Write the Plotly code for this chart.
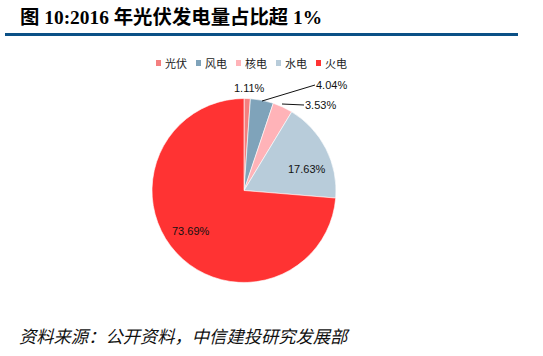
import plotly.graph_objects as go

labels = ["光伏", "风电", "核电", "水电", "火电"]
values = [1.11, 4.04, 3.53, 17.63, 73.69]
colors = ["#F47F7F", "#7FA3BA", "#FFB3B8", "#B8CCDA", "#FF3333"]

W, H = 543, 356
cx, cy, r = 244, 190.5, 92

fig = go.Figure()
fig.add_trace(go.Pie(
    labels=labels, values=values, sort=False, direction="clockwise", rotation=0,
    marker=dict(colors=colors, line=dict(color="white", width=0.6)),
    textinfo="none", hoverinfo="label+percent", showlegend=False,
    domain=dict(x=[(cx - r) / W, (cx + r) / W], y=[1 - (cy + r) / H, 1 - (cy - r) / H]),
))

# legend (manual)
leg_x = [156, 196, 236, 276, 316]
for lx, lab, col in zip(leg_x, labels, colors):
    fig.add_shape(type="rect", xref="paper", yref="paper",
                  x0=lx / W, x1=(lx + 5) / W, y0=1 - 66 / H, y1=1 - 60 / H,
                  fillcolor=col, line=dict(width=0))
    fig.add_annotation(x=(lx + 7) / W, y=1 - 63 / H, xref="paper", yref="paper",
                       text=lab, showarrow=False, xanchor="left", yanchor="middle",
                       font=dict(size=11, color="#222", family="Noto Sans CJK SC"))

# data labels
lab_pos = [(249, 88, None), (331, 85, (262, 101)), (320, 105, (282, 104)),
           (307, 169, None), (191, 231, None)]
for (tx, ty, anc), v in zip(lab_pos, values):
    fig.add_annotation(x=tx / W, y=1 - ty / H, xref="paper", yref="paper",
                       text=f"{v:.2f}%", showarrow=False, xanchor="center", yanchor="middle",
                       font=dict(size=11, color="#111", family="Liberation Sans, Arial"))
    if anc is not None:
        x1 = (tx - 16)
        fig.add_shape(type="line", xref="paper", yref="paper",
                      x0=anc[0] / W, y0=1 - anc[1] / H, x1=x1 / W, y1=1 - ty / H,
                      line=dict(color="#111", width=1))

# title
fig.add_annotation(x=18 / W, y=1 - 16.5 / H, xref="paper", yref="paper",
                   text="<b>图 10:2016 年光伏发电量占比超 1%</b>", showarrow=False,
                   xanchor="left", yanchor="middle",
                   font=dict(size=19.4, color="#000", family="Liberation Serif, Noto Sans CJK SC"))
fig.add_shape(type="line", xref="paper", yref="paper", x0=5 / W, x1=518 / W,
              y0=1 - 34.5 / H, y1=1 - 34.5 / H, line=dict(color="#0B5086", width=3))

# source
fig.add_annotation(x=17 / W, y=1 - 335 / H, xref="paper", yref="paper",
                   text="<i>资料来源：公开资料，中信建投研究发展部</i>", showarrow=False,
                   xanchor="left", yanchor="middle",
                   font=dict(size=17.3, color="#111", family="Noto Sans CJK SC"))

fig.update_layout(width=W, height=H, margin=dict(l=0, r=0, t=0, b=0),
                  paper_bgcolor="white", plot_bgcolor="white")
fig.write_html("out.html", config={"displayModeBar": False},
               post_script="document.body.style.margin='0';")
